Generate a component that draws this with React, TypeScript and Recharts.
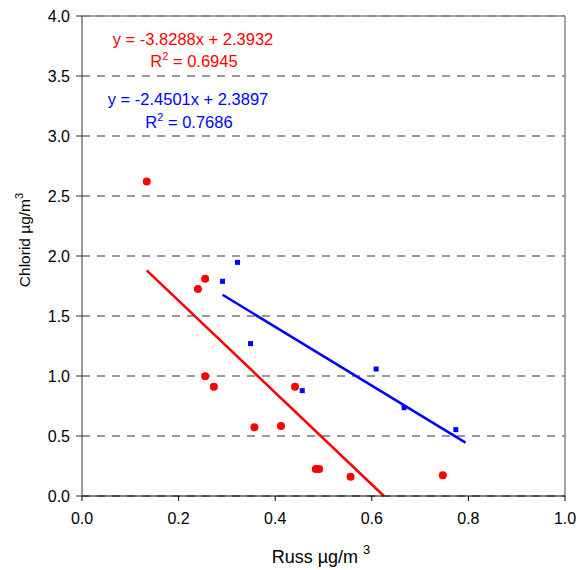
import React from "react";
import {
  ComposedChart,
  Scatter,
  Line,
  XAxis,
  YAxis,
  CartesianGrid,
  ReferenceLine,
  Customized,
} from "recharts";

// Russ (x) / Chlorid (y), µg/m3
const redX = [0.134, 0.24, 0.255, 0.255, 0.273, 0.357, 0.412, 0.441, 0.484, 0.491, 0.556, 0.747];
const redY = [2.62, 1.725, 1.81, 0.997, 0.91, 0.572, 0.583, 0.91, 0.225, 0.225, 0.161, 0.172];
const blueX = [0.291, 0.322, 0.349, 0.456, 0.609, 0.667, 0.774];
const blueY = [1.789, 1.947, 1.27, 0.878, 1.058, 0.736, 0.553];

// trendlines as given in the chart
const redFit = { slope: -3.8288, intercept: 2.3932, r2: 0.6945 };
const blueFit = { slope: -2.4501, intercept: 2.3897, r2: 0.7686 };
const redFitX = [0.134, 0.625];
const blueFitX = [0.291, 0.794];

const xTicks = [0, 0.2, 0.4, 0.6, 0.8, 1.0];
const yTicks = [0, 0.5, 1.0, 1.5, 2.0, 2.5, 3.0, 3.5, 4.0];

const FONT = "'Liberation Sans', Arial, sans-serif";

const red = redX.map((x, i) => ({ x, y: redY[i] }));
const blue = blueX.map((x, i) => ({ x, y: blueY[i] }));
const fitLine = (xs: number[], f: { slope: number; intercept: number }) =>
  xs.map((x) => ({ x, y: f.slope * x + f.intercept }));

const Circle = (p: any) => <circle cx={p.cx} cy={p.cy} r={4} fill="#ff0000" />;
const Square = (p: any) => (
  <rect x={p.cx - 2.5} y={p.cy - 2.5} width={5} height={5} fill="#0000ff" />
);

const fmtEq = (f: { slope: number; intercept: number }) =>
  `y = ${f.slope.toFixed(4)}x + ${f.intercept.toFixed(4)}`;

function Annotations() {
  return (
    <g fontFamily={FONT}>
      <text x={193} y={45} fontSize={16.5} fill="#ff0000" textAnchor="middle">
        {fmtEq(redFit)}
      </text>
      <text x={194} y={67} fontSize={16.5} fill="#ff0000" textAnchor="middle">
        R<tspan fontSize={11} dy={-7}>2</tspan>
        <tspan dy={7}> = {redFit.r2.toFixed(4)}</tspan>
      </text>
      <text x={188} y={105} fontSize={16.5} fill="#0000ff" textAnchor="middle">
        {fmtEq(blueFit)}
      </text>
      <text x={189} y={128} fontSize={16.5} fill="#0000ff" textAnchor="middle">
        R<tspan fontSize={11} dy={-7}>2</tspan>
        <tspan dy={7}> = {blueFit.r2.toFixed(4)}</tspan>
      </text>
      <text x={321} y={563} fontSize={18} fill="#000" textAnchor="middle">
        Russ µg/m <tspan fontSize={13} dy={-9}>3</tspan>
      </text>
      <text
        x={30}
        y={240}
        fontSize={15.5}
        fill="#000"
        textAnchor="middle"
        transform="rotate(-90, 30, 240)"
      >
        Chlorid µg/m<tspan fontSize={11} dy={-7}>3</tspan>
      </text>
    </g>
  );
}

export default function App() {
  const tick = { fontSize: 16, fill: "#000", fontFamily: FONT };
  return (
    <div style={{ position: "absolute", left: 0, top: 0, background: "#fff" }}>
      <ComposedChart
        width={579}
        height={570}
        margin={{ top: 16, right: 14, bottom: 0, left: 0 }}
      >
        <CartesianGrid vertical={false} strokeDasharray="8 7" stroke="#333" />
        <ReferenceLine y={4} stroke="#888" strokeWidth={1.5} />
        <ReferenceLine x={1} stroke="#888" strokeWidth={1.5} />
        <XAxis
          type="number"
          dataKey="x"
          domain={[0, 1]}
          ticks={xTicks}
          tickFormatter={(v: number) => v.toFixed(1)}
          stroke="#000"
          tickSize={5}
          tickMargin={12}
          tick={tick}
          height={74}
        />
        <YAxis
          type="number"
          dataKey="y"
          domain={[0, 4]}
          ticks={yTicks}
          tickFormatter={(v: number) => v.toFixed(1)}
          stroke="#333"
          tickSize={6}
          tickMargin={6}
          tick={tick}
          width={82}
        />
        <Scatter data={red} shape={Circle} isAnimationActive={false} />
        <Scatter data={blue} shape={Square} isAnimationActive={false} />
        <Line
          data={fitLine(redFitX, redFit)}
          dataKey="y"
          stroke="#ff0000"
          strokeWidth={2.5}
          dot={false}
          isAnimationActive={false}
        />
        <Line
          data={fitLine(blueFitX, blueFit)}
          dataKey="y"
          stroke="#0000ff"
          strokeWidth={2.5}
          dot={false}
          isAnimationActive={false}
        />
        <Customized component={Annotations} />
      </ComposedChart>
    </div>
  );
}
